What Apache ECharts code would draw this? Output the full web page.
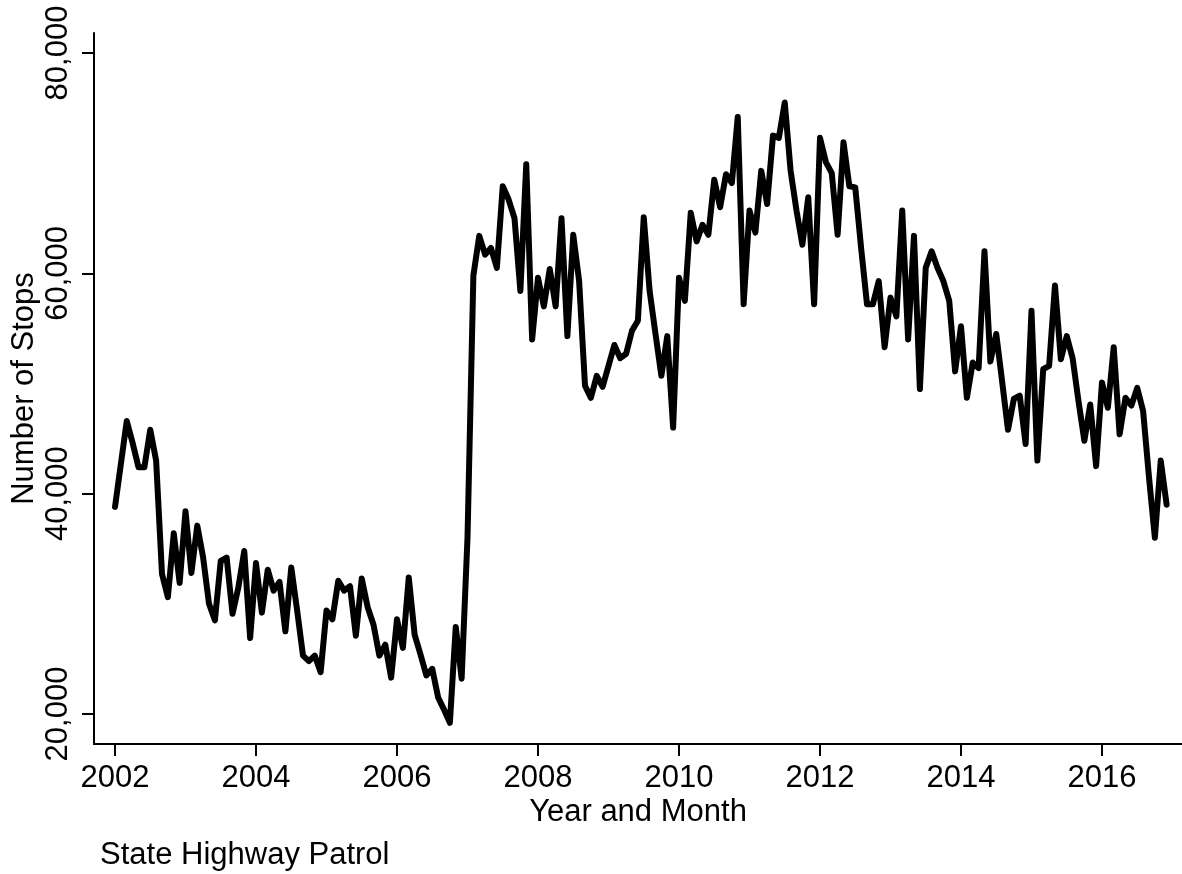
<!DOCTYPE html>
<html>
<head>
<meta charset="utf-8">
<title>State Highway Patrol stops</title>
<script src="https://cdn.jsdelivr.net/npm/echarts@6/dist/echarts.min.js"></script>
<style>
  html, body { margin: 0; padding: 0; background: #fff; }
  #chart { width: 1182px; height: 874px; }
</style>
</head>
<body>
<div id="chart"></div>
<script>
// Monthly traffic stops, January 2002 through December 2016
const startYear = 2002;
const stops = [
  38800, 42700, 46600, 44600, 42400, 42400, 45800, 43000, 32700, 30600, 36400, 31900,
  38400, 32800, 37100, 34200, 30000, 28500, 33900, 34200, 29100, 31500, 34800, 26900,
  33700, 29200, 33100, 31200, 32000, 27500, 33300, 29400, 25300, 24800, 25300, 23800,
  29400, 28600, 32100, 31200, 31600, 27100, 32300, 29700, 28100, 25300, 26300, 23300,
  28600, 26000, 32400, 27200, 25400, 23500, 24100, 21500, 20400, 19200, 27900, 23200,
  36000, 59800, 63400, 61700, 62300, 60500, 67900, 66700, 65000, 58400, 69900, 54000,
  59600, 57000, 60400, 57000, 65000, 54300, 63500, 59300, 49800, 48700, 50700, 49700,
  51600, 53500, 52300, 52700, 54800, 55700, 65100, 58400, 54500, 50700, 54300, 46000,
  59600, 57500, 65500, 62900, 64400, 63500, 68500, 66000, 69000, 68200, 74200, 57200,
  65700, 63700, 69300, 66300, 72500, 72300, 75500, 69300, 65700, 62600, 66900, 57200,
  72300, 70100, 69100, 63500, 71900, 67900, 67800, 62300, 57200, 57200, 59300, 53300,
  57800, 56100, 65700, 54000, 63400, 49500, 60500, 62000, 60500, 59300, 57500, 51100,
  55200, 48700, 51900, 51400, 62000, 52000, 54500, 50200, 45800, 48600, 48900, 44500,
  56600, 43000, 51300, 51600, 58900, 52200, 54300, 52300, 48400, 44800, 48100, 42500,
  50100, 47800, 53300, 45400, 48700, 48000, 49600, 47500, 41500, 36000, 43000, 39000
];
const yearTicks = [2002, 2004, 2006, 2008, 2010, 2012, 2014, 2016];
const stopTicks = [20000, 40000, 60000, 80000];

const FONT = "'Liberation Sans', Arial, Helvetica, sans-serif";
const FONT_SIZE = 31;

// each month sits at year + (month index / 12)
const points = stops.map((v, i) => [startYear + i / 12, v]);

const chart = echarts.init(document.getElementById('chart'), null, { renderer: 'canvas' });
chart.setOption({
  backgroundColor: '#ffffff',
  animation: false,
  textStyle: { fontFamily: FONT, color: '#000' },
  grid: { left: 94, right: 0, top: 33, bottom: 130, containLabel: false, outerBoundsMode: 'none' },
  xAxis: {
    type: 'value',
    min: 2001.702,
    max: 2017.135,
    name: 'Year and Month',
    nameLocation: 'middle',
    nameGap: 53,
    nameMoveOverlap: false,
    nameTextStyle: { fontFamily: FONT, fontSize: FONT_SIZE, color: '#000' },
    axisLine: { show: true, onZero: false, lineStyle: { color: '#000', width: 2 } },
    axisTick: { show: true, length: 12, lineStyle: { color: '#000', width: 2 }, customValues: yearTicks },
    axisLabel: {
      margin: 19,
      fontFamily: FONT, fontSize: FONT_SIZE, color: '#000',
      customValues: yearTicks,
      formatter: v => String(Math.round(v))
    },
    splitLine: { show: false }
  },
  yAxis: {
    type: 'value',
    min: 17276,
    max: 81816,
    name: 'Number of Stops',
    nameLocation: 'middle',
    nameRotate: 90,
    nameGap: 54,
    nameMoveOverlap: false,
    nameTextStyle: { fontFamily: FONT, fontSize: FONT_SIZE, color: '#000' },
    axisLine: { show: true, onZero: false, lineStyle: { color: '#000', width: 2 } },
    axisTick: { show: true, length: 12, lineStyle: { color: '#000', width: 2 }, customValues: stopTicks },
    axisLabel: {
      margin: 20,
      rotate: 90,
      fontFamily: FONT, fontSize: FONT_SIZE, color: '#000',
      customValues: stopTicks,
      formatter: v => Math.round(v).toLocaleString('en-US')
    },
    splitLine: { show: false }
  },
  graphic: [{
    type: 'text',
    left: 100,
    top: 840,
    style: { text: 'State Highway Patrol', fontFamily: FONT, fontSize: FONT_SIZE, fill: '#000' }
  }],
  series: [{
    type: 'line',
    data: points,
    showSymbol: false,
    symbol: 'none',
    smooth: false,
    lineStyle: { color: '#000', width: 6, join: 'round', cap: 'round' }
  }]
});
</script>
</body>
</html>
